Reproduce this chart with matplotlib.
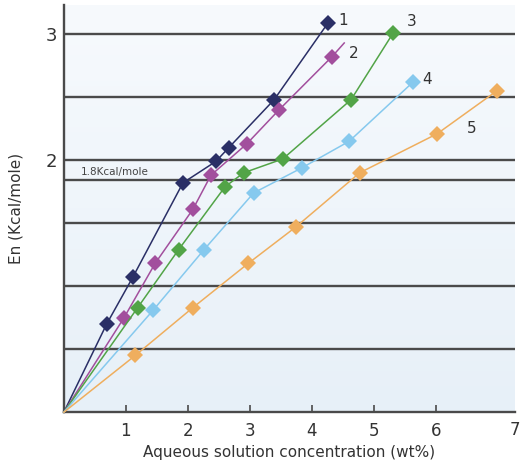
import matplotlib
matplotlib.use("Agg")
import matplotlib.pyplot as plt
import numpy as np

# concentration (wt%) and En (Kcal/mole), every curve starts at the origin
x1 = [0, 0.69, 1.11, 1.92, 2.45, 2.66, 3.39, 4.26]
y1 = [0, 0.70, 1.07, 1.82, 1.99, 2.10, 2.48, 3.09]

x2 = [0, 0.97, 1.47, 2.08, 2.37, 2.95, 3.47, 4.32, 4.52]
y2 = [0, 0.75, 1.18, 1.61, 1.88, 2.13, 2.40, 2.82, 2.93]

x3 = [0, 1.19, 1.85, 2.60, 2.90, 3.53, 4.63, 5.31]
y3 = [0, 0.83, 1.29, 1.79, 1.90, 2.01, 2.48, 3.01]

x4 = [0, 1.44, 2.26, 3.06, 3.84, 4.60, 5.63]
y4 = [0, 0.81, 1.29, 1.74, 1.94, 2.15, 2.62]

x5 = [0, 1.15, 2.08, 2.97, 3.74, 4.77, 6.02, 6.98]
y5 = [0, 0.45, 0.83, 1.18, 1.47, 1.90, 2.21, 2.55]

series_names = ["1", "2", "3", "4", "5"]
colors = ["#2a2f66", "#a24f9d", "#52a447", "#86c9ee", "#efae5e"]

grid_levels = [0.5, 1.0, 1.5, 2.0, 2.5, 3.0]
threshold = 1.84
threshold_label = "1.8Kcal/mole"

fig = plt.figure(figsize=(5.28, 4.70), dpi=100)
ax = fig.add_axes([0.121, 0.123, 0.854, 0.866])
ax.set_xlim(0, 7.27)
ax.set_ylim(0, 3.23)

# light blue gradient background
grad = np.linspace(0, 1, 256).reshape(-1, 1)
bg = np.zeros((256, 1, 3))
top = np.array([0xf7, 0xfa, 0xfd]) / 255
bot = np.array([0xe7, 0xf0, 0xf8]) / 255
bg[:, 0, :] = top * (1 - grad) + bot * grad
ax.imshow(bg, extent=[0, 1, 0, 1], transform=ax.transAxes, aspect="auto", zorder=0)

for lv in grid_levels + [threshold]:
    ax.axhline(lv, color="#4a4a4a", lw=1.7, zorder=1)

xs = [x1, x2, x3, x4, x5]
ys = [y1, y2, y3, y4, y5]
for i, (xx, yy) in enumerate(zip(xs, ys)):
    n = len(xx)
    marks = list(range(1, n))
    if i == 1:
        marks = list(range(1, n - 1))  # curve 2 runs on past its last marker
    ax.plot(xx, yy, color=colors[i], lw=1.1, marker="D", markersize=8,
            markeredgewidth=0, markevery=marks, zorder=3, clip_on=False)

# curve numbers
label_pos = [(4.5, 3.11), (4.67, 2.85), (5.6, 3.1), (5.85, 2.64), (6.57, 2.25)]
for name, (lx, ly) in zip(series_names, label_pos):
    ax.text(lx, ly, name, fontsize=11, color="#333333", ha="center", va="center")

ax.text(0.27, threshold + 0.07, threshold_label, fontsize=7.5, color="#444444",
        ha="left", va="center")

for s in ["top", "right"]:
    ax.spines[s].set_visible(False)
for s in ["left", "bottom"]:
    ax.spines[s].set_color("#4a4a4a")
    ax.spines[s].set_linewidth(1.7)

ax.set_yticks([2, 3])
ax.set_yticklabels(["2", "3"], fontsize=13, color="#333333")
ax.tick_params(axis="y", length=0, pad=5)

ax.set_xticks([1, 2, 3, 4, 5, 6])
ax.set_xticklabels(["1", "2", "3", "4", "5", "6"], fontsize=12, color="#333333")
ax.tick_params(axis="x", direction="in", length=5, width=1.2, color="#4a4a4a", pad=7)
ax.text(1.0, -0.022, "7", transform=ax.transAxes, fontsize=12, color="#333333",
        ha="center", va="top")

ax.set_xlabel("Aqueous solution concentration (wt%)", fontsize=11, color="#333333", labelpad=4)
ax.set_ylabel("En (Kcal/mole)", fontsize=11, color="#333333", labelpad=16)

fig.savefig("out.png", dpi=100)
